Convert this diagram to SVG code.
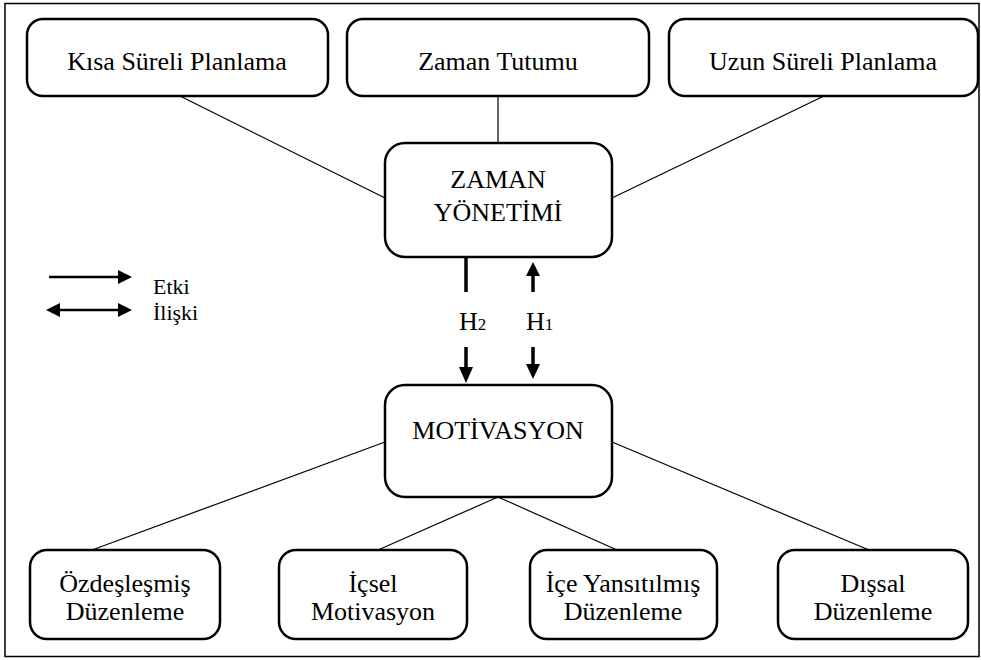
<svg xmlns="http://www.w3.org/2000/svg" width="981" height="660" viewBox="0 0 981 660">
<style>
.box{fill:#fff;stroke:#000;stroke-width:2.5}
.t{font-size:26px;fill:#000;text-anchor:middle}
.lg{font-size:22px;fill:#000}
.c{stroke:#000;stroke-width:1.2;fill:none}
.a{stroke:#000;stroke-width:3.5;fill:none}
</style>
<rect x="0" y="0" width="981" height="660" fill="#fff"/>
<rect x="5" y="3.5" width="974" height="653" fill="none" stroke="#000" stroke-width="1.5"/>
<g id="connectors">
<line class="c" x1="180" y1="96" x2="385" y2="198"/>
<line class="c" x1="498" y1="96" x2="498" y2="143"/>
<line class="c" x1="824" y1="96" x2="612" y2="198"/>
<line class="c" x1="385" y1="442" x2="92" y2="550"/>
<line class="c" x1="498" y1="497" x2="378" y2="550"/>
<line class="c" x1="498" y1="497" x2="617" y2="550"/>
<line class="c" x1="612" y1="442" x2="869" y2="550"/>
<line class="a" x1="466" y1="257" x2="466" y2="292"/>
<line class="a" x1="533" y1="275" x2="533" y2="292"/>
<polygon points="526,276 533,262 540,276"/>
<line class="a" x1="466" y1="347" x2="466" y2="368"/>
<polygon points="459,367 466,383 473,367"/>
<line class="a" x1="533" y1="347" x2="533" y2="365"/>
<polygon points="526,364 533,379 540,364"/>
</g>
<g font-family="'Liberation Serif', Tinos, 'DejaVu Serif', 'Times New Roman', serif">
<g id="legend">
<line stroke="#000" stroke-width="2.5" x1="49" y1="277" x2="119" y2="277"/>
<polygon points="118,270 132,277 118,284"/>
<line stroke="#000" stroke-width="2.5" x1="58" y1="310" x2="119" y2="310"/>
<polygon points="118,303 132,310 118,317"/>
<polygon points="60,303 46,310 60,317"/>
<text class="lg" x="153" y="294">Etki</text>
<text class="lg" x="153" y="320">İlişki</text>
</g>
<g id="kisa"><rect class="box" x="27" y="19" width="301" height="77" rx="16"/><text class="t" x="177" y="70">Kısa Süreli Planlama</text></g>
<g id="zaman-tutumu"><rect class="box" x="347" y="19" width="302" height="77" rx="16"/><text class="t" x="498" y="70">Zaman Tutumu</text></g>
<g id="uzun"><rect class="box" x="669" y="19" width="309" height="77" rx="16"/><text class="t" x="823" y="70">Uzun Süreli Planlama</text></g>
<g id="zaman-yonetimi"><rect class="box" x="385" y="143" width="227" height="114" rx="20"/><text class="t" x="498" y="188">ZAMAN</text><text class="t" x="498" y="221">YÖNETİMİ</text></g>
<g id="h-labels">
<text class="t" x="459" y="330" style="text-anchor:start">H<tspan font-size="17">2</tspan></text>
<text class="t" x="526" y="330" style="text-anchor:start">H<tspan font-size="17">1</tspan></text>
</g>
<g id="motivasyon"><rect class="box" x="385" y="385" width="227" height="112" rx="20"/><text class="t" x="498" y="439">MOTİVASYON</text></g>
<g id="ozdeslesmis"><rect class="box" x="30" y="550" width="190" height="89" rx="17"/><text class="t" x="125" y="592">Özdeşleşmiş</text><text class="t" x="125" y="620">Düzenleme</text></g>
<g id="icsel"><rect class="box" x="279" y="550" width="188" height="89" rx="17"/><text class="t" x="373" y="592">İçsel</text><text class="t" x="373" y="620">Motivasyon</text></g>
<g id="ice-yansitilmis"><rect class="box" x="530" y="550" width="187" height="89" rx="17"/><text class="t" x="623" y="592">İçe Yansıtılmış</text><text class="t" x="623" y="620">Düzenleme</text></g>
<g id="dissal"><rect class="box" x="778" y="550" width="190" height="89" rx="17"/><text class="t" x="873" y="592">Dışsal</text><text class="t" x="873" y="620">Düzenleme</text></g>
</g>
</svg>
